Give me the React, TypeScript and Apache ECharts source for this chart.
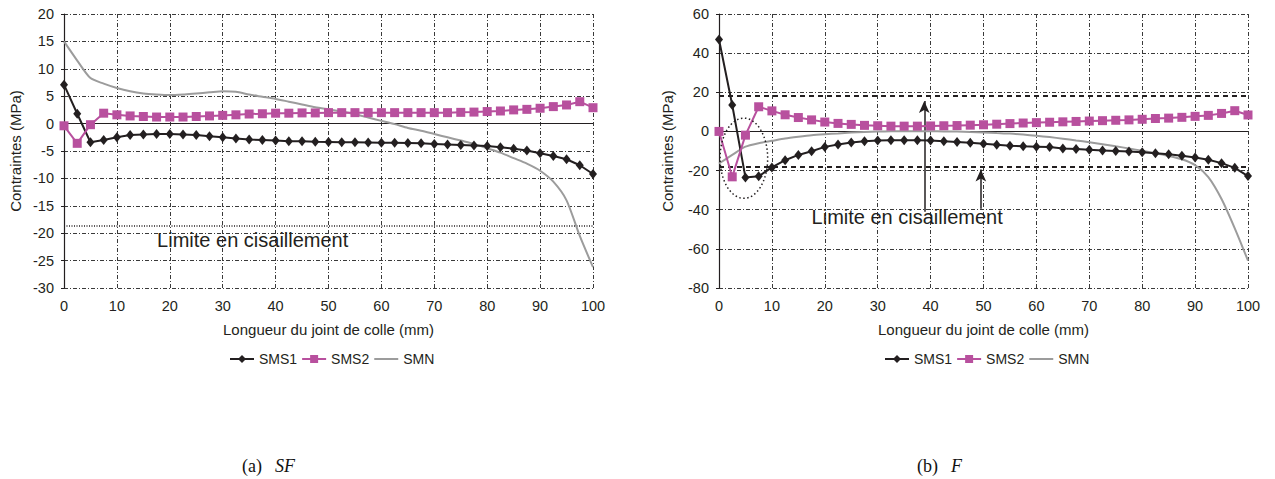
import React, { useEffect, useRef } from "react";
import * as echarts from "echarts";

// Positions along the joint (mm)
const xs = [0, 2.5, 5, 7.5, 10, 12.5, 15, 17.5, 20, 22.5, 25, 27.5, 30, 32.5, 35, 37.5, 40, 42.5, 45, 47.5, 50,
  52.5, 55, 57.5, 60, 62.5, 65, 67.5, 70, 72.5, 75, 77.5, 80, 82.5, 85, 87.5, 90, 92.5, 95, 97.5, 100];

// (a) SF
const sfSMS1 = [7.1, 1.8, -3.4, -3.0, -2.5, -2.1, -2.0, -1.9, -1.9, -2.0, -2.1, -2.3, -2.5, -2.7, -2.9, -3.0, -3.1, -3.2, -3.2, -3.3, -3.35,
  -3.4, -3.4, -3.45, -3.5, -3.5, -3.55, -3.6, -3.7, -3.8, -3.9, -4.0, -4.1, -4.3, -4.6, -4.9, -5.4, -5.9, -6.5, -7.6, -9.2];
const sfSMS2 = [-0.4, -3.6, -0.2, 1.9, 1.6, 1.4, 1.3, 1.2, 1.2, 1.2, 1.3, 1.4, 1.5, 1.6, 1.75, 1.8, 1.9, 1.9, 1.95, 1.95, 2.0,
  2.0, 2.0, 2.0, 2.0, 2.0, 2.0, 2.0, 2.0, 2.0, 2.05, 2.1, 2.2, 2.3, 2.5, 2.6, 2.8, 3.1, 3.4, 4.0, 2.9];
const sfSMN = [15.0, 11.5, 8.3, 7.3, 6.5, 5.9, 5.5, 5.3, 5.2, 5.3, 5.5, 5.7, 5.9, 5.8, 5.3, 4.9, 4.5, 4.0, 3.5, 3.0, 2.6,
  2.2, 1.7, 1.1, 0.5, -0.1, -0.8, -1.3, -1.9, -2.5, -3.1, -3.7, -4.5, -5.3, -6.3, -7.3, -8.6, -10.6, -14.0, -20.5, -26.2];
const sfLimit = -18.7;

// (b) F
const fSMS1 = [47.0, 13.5, -23.5, -22.9, -18.4, -14.7, -12.0, -10.1, -7.9, -6.7, -5.6, -5.0, -4.6, -4.5, -4.5, -4.5, -4.6, -5.0, -5.4, -5.8, -6.3,
  -6.8, -7.3, -7.6, -7.8, -8.0, -8.7, -9.0, -9.4, -9.7, -10.0, -10.3, -10.7, -11.2, -11.7, -12.4, -13.3, -14.5, -16.2, -18.6, -22.8];
const fSMS2 = [0.0, -23.2, -1.9, 12.6, 10.5, 8.5, 7.1, 5.9, 4.8, 4.1, 3.6, 3.1, 2.9, 2.7, 2.7, 2.7, 2.8, 2.9, 3.0, 3.2, 3.4,
  3.7, 4.0, 4.3, 4.5, 4.7, 4.9, 5.1, 5.3, 5.5, 5.7, 5.9, 6.2, 6.6, 6.8, 7.2, 7.7, 8.2, 9.2, 10.6, 8.4];
const fSMN = [-16.4, -12.0, -7.8, -6.0, -4.8, -3.6, -2.7, -1.9, -1.4, -1.0, -0.6, -0.3, -0.1, 0.1, 0.15, 0.15, 0.1, 0.0, -0.1, -0.3, -0.5,
  -0.8, -1.1, -1.6, -2.2, -2.9, -3.7, -4.6, -5.5, -6.5, -7.6, -8.7, -9.9, -11.2, -12.5, -14.2, -17.2, -23.3, -34.5, -49.5, -66.0];
const fLimit = 18;

const seriesNames = ["SMS1", "SMS2", "SMN"];
const limitText = "Limite en cisaillement";
const xName = "Longueur du joint de colle (mm)";
const yName = "Contraintes (MPa)";

const FONT = "'Liberation Sans', Arial, sans-serif";
const SERIF = "'Liberation Serif', 'DejaVu Serif', serif";
const INK = "#231f20";
const MAGENTA = "#b8509e";
const GREY = "#9c9c9c";

const pairs = (ys: number[]) => xs.map((x, i) => [x, ys[i]]);

export default function App() {
  const ref = useRef<HTMLDivElement>(null);
  useEffect(() => {
    if (!ref.current) return;
    const chart = echarts.init(ref.current, null, { renderer: "svg" });
    const gridLine = { show: true, lineStyle: { color: "#3a3a3a", width: 1, type: [4, 2, 1, 2] } };
    const xAxisBase = (gi: number) => ({
      type: "value", gridIndex: gi, min: 0, max: 100, interval: 10,
      axisLine: { show: false }, axisTick: { show: false },
      axisLabel: { color: INK, fontSize: 14.5, margin: 10, fontFamily: FONT },
      splitLine: gridLine,
      name: xName, nameLocation: "middle", nameGap: 34,
      nameTextStyle: { color: INK, fontSize: 15, fontFamily: FONT },
    });
    const yAxisBase = (gi: number, min: number, max: number, interval: number, gap: number) => ({
      type: "value", gridIndex: gi, min, max, interval,
      axisLine: { show: true, onZero: false, lineStyle: { color: INK, width: 1.2 } },
      axisTick: { show: true, length: 3, lineStyle: { color: INK } },
      axisLabel: { color: INK, fontSize: 14.5, margin: 10, fontFamily: FONT },
      splitLine: gridLine,
      name: yName, nameLocation: "middle", nameRotate: 90, nameGap: gap,
      nameTextStyle: { color: INK, fontSize: 15, fontFamily: FONT },
    });
    const mk = (name: string, data: number[], gi: number, extra: any = {}) => {
      const base: any = { name, type: "line", xAxisIndex: gi, yAxisIndex: gi, data: pairs(data), z: 3 };
      if (name === "SMS1") Object.assign(base, { color: INK, symbol: "diamond", symbolSize: [8, 10], lineStyle: { color: INK, width: 2 }, itemStyle: { color: INK } });
      if (name === "SMS2") Object.assign(base, { color: MAGENTA, symbol: "rect", symbolSize: 9, lineStyle: { color: MAGENTA, width: 2 }, itemStyle: { color: MAGENTA } });
      if (name === "SMN") Object.assign(base, { color: GREY, symbol: "none", showSymbol: false, smooth: 0.25, lineStyle: { color: GREY, width: 2 }, z: 2 });
      return Object.assign(base, extra);
    };
    const legendData = ["SMS1", "SMS2", { name: seriesNames[2], itemStyle: { opacity: 0 } }];
    const legendBase = { data: legendData, top: 347, itemWidth: 24, itemHeight: 10, itemGap: 4, textStyle: { color: INK, fontSize: 14, fontFamily: FONT } };
    const zeroLine = { yAxis: 0, lineStyle: { color: INK, width: 1, type: "solid" } };
    const arrowEnd = { symbol: "arrow", symbolSize: [8, 12], lineStyle: { color: INK, width: 1.5, type: "solid" } };
    const option: any = {
      animation: false,
      textStyle: { fontFamily: FONT },
      grid: [
        { left: 64, top: 14, width: 529, height: 274 },
        { left: 719, top: 14, width: 529, height: 274 },
      ],
      xAxis: [xAxisBase(0), xAxisBase(1)],
      yAxis: [yAxisBase(0, -30, 20, 5, 41), yAxisBase(1, -80, 60, 20, 44)],
      legend: [
        { ...legendBase, left: 224 },
        { ...legendBase, left: 879 },
      ],
      series: [
        mk("SMS1", sfSMS1, 0),
        mk("SMS2", sfSMS2, 0),
        mk("SMN", sfSMN, 0, {
          markLine: {
            silent: true, symbol: "none", label: { show: false }, z: 1,
            data: [zeroLine, { yAxis: sfLimit, lineStyle: { color: INK, width: 1.5, type: [1, 1.5] } }],
          },
        }),
        mk("SMS1", fSMS1, 1),
        mk("SMS2", fSMS2, 1),
        mk("SMN", fSMN, 1, {
          markLine: {
            silent: true, symbol: "none", label: { show: false }, z: 1,
            data: [
              zeroLine,
              { yAxis: fLimit, lineStyle: { color: INK, width: 2, type: [5, 4] } },
              { yAxis: -fLimit, lineStyle: { color: INK, width: 2, type: [5, 4] } },
              [{ coord: [38.8, -41], symbol: "none" }, { coord: [38.8, 15.5], ...arrowEnd }],
              [{ coord: [49.5, -39.5], symbol: "none" }, { coord: [49.5, -19.5], ...arrowEnd }],
            ],
          },
        }),
      ],
    };
    chart.setOption(option);

    const p0 = chart.convertToPixel({ gridIndex: 0 }, [17.6, -21.2]) as number[];
    const p1 = chart.convertToPixel({ gridIndex: 1 }, [17.5, -43.7]) as number[];
    const ec = chart.convertToPixel({ gridIndex: 1 }, [4.7, -13.7]) as number[];
    const ee = chart.convertToPixel({ gridIndex: 1 }, [4.7 + 4.5, -13.7 + 20.5]) as number[];
    const textStyle = { fill: INK, font: `20px ${FONT}`, verticalAlign: "middle" };
    const caption = (text: string, x: number) => ({
      type: "text", x, y: 466,
      style: {
        text, fill: "#111", font: `18px ${SERIF}`, verticalAlign: "middle",
        rich: { i: { fontStyle: "italic", fontSize: 18, fontFamily: SERIF, fill: "#111", padding: [0, 0, 0, 4] } },
      },
    });
    chart.setOption({
      graphic: [
        { type: "text", x: p0[0], y: p0[1], z: 10, style: { ...textStyle, text: limitText } },
        { type: "text", x: p1[0], y: p1[1], z: 10, style: { ...textStyle, text: limitText } },
        {
          type: "ellipse", z: 10,
          shape: { cx: ec[0], cy: ec[1], rx: Math.abs(ee[0] - ec[0]), ry: Math.abs(ee[1] - ec[1]) },
          style: { fill: "none", stroke: INK, lineWidth: 1.5, lineDash: [1.5, 2.5] },
        },
        caption("(a)  {i|SF}", 242),
        caption("(b)  {i|F}", 917),
      ],
    });
    return () => chart.dispose();
  }, []);
  return <div ref={ref} style={{ position: "absolute", left: 0, top: 0, width: 1275, height: 479, background: "#fff" }} />;
}
